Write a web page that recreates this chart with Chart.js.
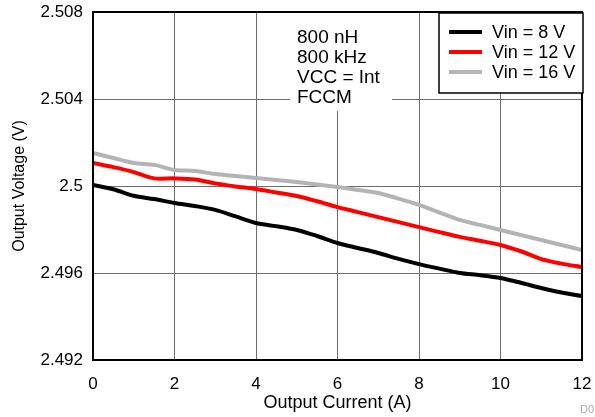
<!DOCTYPE html>
<html>
<head>
<meta charset="utf-8">
<script src="https://cdn.jsdelivr.net/npm/chart.js@4"></script>
<style>
  html, body { margin: 0; padding: 0; background: #fff; }
  #myChart { display: block; }
</style>
</head>
<body>
<canvas id="myChart" width="595" height="417"></canvas>
<script>
const current = [0, 0.5, 1, 1.5, 2, 2.5, 3, 3.5, 4, 4.5, 5, 5.5, 6, 6.5, 7, 7.5, 8, 8.5, 9, 9.5, 10, 10.5, 11, 11.5, 12];
const vin8 = [2.50005, 2.49985, 2.49955, 2.4994, 2.49922, 2.49908, 2.4989, 2.4986, 2.4983, 2.49815, 2.49798, 2.4977, 2.49738, 2.49715, 2.49692, 2.49665, 2.49641, 2.4962, 2.496, 2.4959, 2.49577, 2.49555, 2.49531, 2.4951, 2.49494];
const vin12 = [2.50106, 2.50087, 2.50064, 2.50035, 2.50035, 2.5003, 2.50012, 2.49998, 2.49986, 2.4997, 2.49954, 2.4993, 2.49903, 2.4988, 2.49857, 2.49834, 2.49811, 2.49788, 2.49766, 2.49748, 2.49729, 2.497, 2.49664, 2.49643, 2.49627];
const vin16 = [2.50152, 2.50129, 2.50106, 2.50097, 2.50074, 2.50069, 2.50055, 2.50046, 2.50037, 2.50028, 2.50018, 2.50007, 2.49995, 2.49982, 2.49968, 2.49942, 2.49913, 2.49878, 2.49844, 2.49821, 2.49798, 2.49775, 2.49752, 2.49729, 2.49706];
const seriesLabels = ['Vin = 8 V', 'Vin = 12 V', 'Vin = 16 V'];
const seriesColors = ['#000000', '#ff0000', '#b4b4b4'];
const noteLines = ['800 nH', '800 kHz', 'VCC = Int', 'FCCM'];

const FONT = 'Liberation Sans, Arial, Helvetica, sans-serif';

function points(ys) {
    return current.map((x, i) => ({ x: x, y: ys[i] }));
}

// white note box, frame, legend and the small figure id
const extras = {
    id: 'extras',
    beforeDatasetsDraw(chart) {
        const ctx = chart.ctx;
        const a = chart.chartArea;
        ctx.save();
        ctx.fillStyle = '#fff';
        ctx.fillRect(290, a.top + 1, 102, 110 - a.top);
        ctx.fillStyle = '#000';
        ctx.font = '19px ' + FONT;
        ctx.textBaseline = 'middle';
        ctx.textAlign = 'left';
        noteLines.forEach((t, i) => ctx.fillText(t, 297, 38 + i * 20));
        ctx.restore();
    },
    afterDatasetsDraw(chart) {
        const ctx = chart.ctx;
        const a = chart.chartArea;
        ctx.save();
        ctx.strokeStyle = '#000';
        ctx.lineWidth = 2;
        ctx.strokeRect(a.left, a.top, a.right - a.left, a.bottom - a.top);

        // legend
        ctx.fillStyle = '#fff';
        ctx.fillRect(439, 13, 144, 80);
        ctx.lineWidth = 1.5;
        ctx.strokeRect(439, 13, 144, 80);
        ctx.font = '18px ' + FONT;
        ctx.textBaseline = 'middle';
        ctx.textAlign = 'left';
        chart.data.datasets.forEach((ds, i) => {
            const y = 32 + i * 20;
            ctx.strokeStyle = ds.borderColor;
            ctx.lineWidth = 4;
            ctx.beginPath();
            ctx.moveTo(449, y);
            ctx.lineTo(482, y);
            ctx.stroke();
            ctx.fillStyle = '#000';
            ctx.fillText(ds.label, 492, y + 1);
        });

        ctx.fillStyle = '#aaa';
        ctx.font = '11px ' + FONT;
        ctx.fillText('D0', 580, 410);
        ctx.restore();
    }
};

const config = {
    type: 'line',
    data: {
        datasets: seriesLabels.map((lbl, i) => ({
            label: lbl,
            data: points([vin8, vin12, vin16][i]),
            borderColor: seriesColors[i],
            backgroundColor: seriesColors[i],
            borderWidth: 4,
            pointRadius: 0,
            tension: 0.3,
            fill: false,
            order: i   // black on top
        }))
    },
    options: {
        responsive: false,
        animation: false,
        layout: { autoPadding: false, padding: { left: 0, right: 13, top: 12, bottom: 0 } },
        plugins: {
            legend: { display: false },
            tooltip: { enabled: false }
        },
        scales: {
            x: {
                type: 'linear',
                min: 0,
                max: 12,
                ticks: {
                    stepSize: 2,
                    color: '#000',
                    padding: 14,
                    font: { family: FONT, size: 17 }
                },
                grid: { color: '#6e6e6e', lineWidth: 1, drawTicks: false },
                border: { display: false },
                title: {
                    display: true,
                    text: 'Output Current (A)',
                    color: '#000',
                    font: { family: FONT, size: 18 },
                    padding: { top: 0, bottom: 3 }
                },
                afterFit(scale) {
                    scale.height = 57;
                    scale.paddingLeft = 0;
                    scale.paddingRight = 0;
                }
            },
            y: {
                min: 2.492,
                max: 2.508,
                ticks: {
                    stepSize: 0.004,
                    color: '#000',
                    padding: 10,
                    font: { family: FONT, size: 17 },
                    callback: v => parseFloat(v.toFixed(3)).toString()
                },
                grid: { color: '#6e6e6e', lineWidth: 1, drawTicks: false },
                border: { display: false },
                title: {
                    display: true,
                    text: 'Output Voltage (V)',
                    color: '#000',
                    font: { family: FONT, size: 16 },
                    padding: { top: 10, bottom: 0 }
                },
                afterFit(scale) {
                    scale.width = 93;
                    scale.paddingTop = 0;
                    scale.paddingBottom = 0;
                }
            }
        }
    },
    plugins: [extras]
};

const ctx = document.getElementById('myChart').getContext('2d');
new Chart(ctx, config);
</script>
</body>
</html>
